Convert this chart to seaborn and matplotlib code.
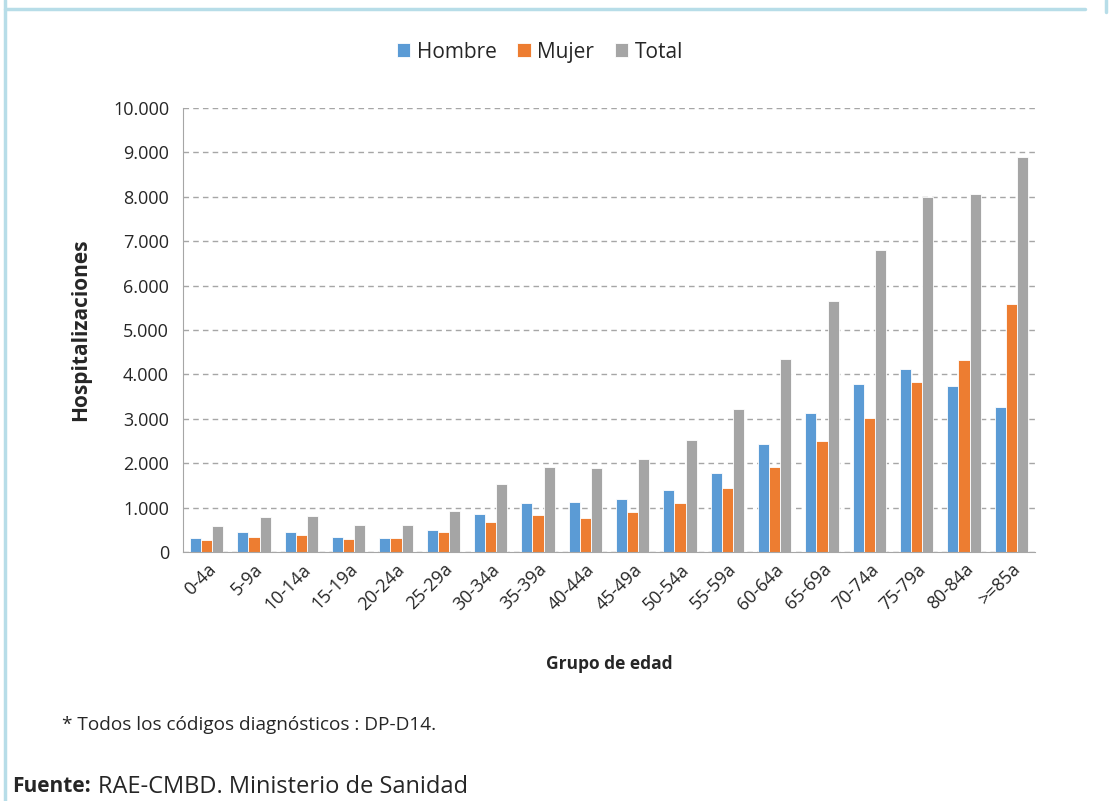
import numpy as np
import pandas as pd
import seaborn as sns
import matplotlib.pyplot as plt
from matplotlib.lines import Line2D
from matplotlib.ticker import FuncFormatter, MultipleLocator

# datos
grupos = ["0-4a", "5-9a", "10-14a", "15-19a", "20-24a", "25-29a", "30-34a",
          "35-39a", "40-44a", "45-49a", "50-54a", "55-59a", "60-64a", "65-69a",
          "70-74a", "75-79a", "80-84a", ">=85a"]
hombre = [323, 444, 444, 346, 323, 489, 852, 1095, 1133, 1193, 1393, 1775,
          2428, 3125, 3793, 4115, 3733, 3268]
mujer = [263, 346, 383, 286, 308, 444, 674, 830, 770, 889, 1111, 1452,
         1917, 2503, 3013, 3838, 4318, 5593]
total = [586, 789, 805, 609, 609, 917, 1533, 1919, 1896, 2089, 2511, 3230,
         4340, 5653, 6809, 7986, 8054, 8887]
series = ["Hombre", "Mujer", "Total"]
colores = ["#5B9BD5", "#ED7D31", "#A5A5A5"]

df = pd.DataFrame({
    "grupo": grupos * 3,
    "serie": np.repeat(series, len(grupos)),
    "valor": hombre + mujer + total,
})

sns.set_style("white")
plt.rcParams["font.family"] = ["Open Sans", "DejaVu Sans"]

fig = plt.figure(figsize=(11.11, 8.01), dpi=100)
ax = fig.add_axes([0.1647, 0.3109, 0.7669, 0.5543])

sns.barplot(data=df, x="grupo", y="valor", hue="serie", order=grupos,
            hue_order=series, palette=colores, width=0.7, ax=ax,
            edgecolor="white", linewidth=0.6, saturation=1)

ax.set_ylim(0, 10000)
ax.yaxis.set_major_locator(MultipleLocator(1000))
ax.yaxis.set_major_formatter(FuncFormatter(lambda v, p: f"{int(v):,}".replace(",", ".")))
ax.grid(axis="y", linestyle=(0, (4, 3)), color="#A6A6A6", linewidth=1)
ax.set_axisbelow(True)
for s in ["top", "right"]:
    ax.spines[s].set_visible(False)
ax.spines["left"].set_color("#A6A6A6")
ax.spines["bottom"].set_color("#A6A6A6")
ax.tick_params(axis="y", length=0, labelsize=13, pad=10)
ax.tick_params(axis="x", length=0, labelsize=13, pad=6)
plt.setp(ax.get_xticklabels(), rotation=45, ha="right", rotation_mode="anchor")

ax.set_ylabel("Hospitalizaciones", fontsize=15, fontweight="bold", labelpad=16)
ax.set_xlabel("Grupo de edad", fontsize=12.5, fontweight="bold", labelpad=30)

handles, labels = ax.get_legend_handles_labels()
ax.legend(handles, labels, loc="center", bbox_to_anchor=(0.486, 0.935),
          bbox_transform=fig.transFigure, ncol=3, frameon=False, fontsize=15,
          handlelength=0.65, handleheight=0.65, handletextpad=0.3, columnspacing=1.0)

fig.text(62 / 1111, 1 - 725 / 801, "* Todos los códigos diagnósticos : DP-D14.",
         fontsize=13.7, va="center", ha="left")
fig.text(12 / 1111, 1 - 787 / 801, "Fuente:", fontsize=15, fontweight="bold",
         va="center", ha="left")
fig.text(98 / 1111, 1 - 787 / 801, "RAE-CMBD. Ministerio de Sanidad",
         fontsize=17, va="center", ha="left")

# marco azul claro
borde = "#B7DDE8"
fig.add_artist(Line2D([5 / 1111, 5 / 1111], [0, 1], color=borde, lw=2.5,
                      transform=fig.transFigure))
fig.add_artist(Line2D([5 / 1111, 1085 / 1111], [1 - 9 / 801, 1 - 9 / 801], color=borde,
                      lw=2.5, transform=fig.transFigure))
fig.add_artist(Line2D([1106 / 1111, 1106 / 1111], [1 - 12 / 801, 1], color=borde,
                      lw=2.5, transform=fig.transFigure))

fig.savefig("out.png", dpi=100)
